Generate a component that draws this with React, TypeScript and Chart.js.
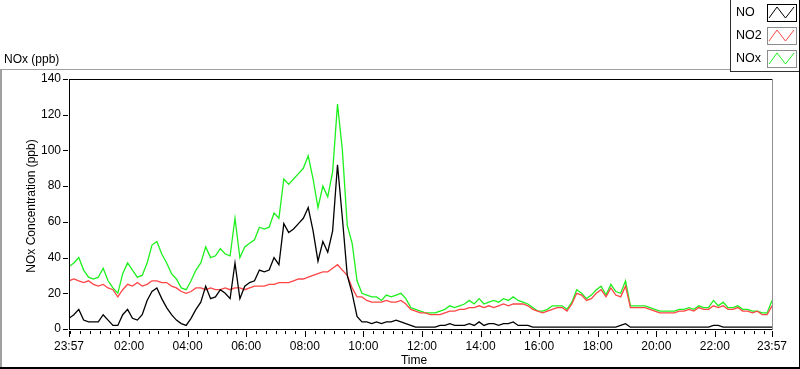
import React, { useEffect, useRef } from "react";
import { Chart, registerables } from "chart.js";

Chart.register(...registerables);

// Sample spacing in minutes, starting at 23:57
const SAMPLE_STEP_MIN = 10;

const NO_PPB = [
  6, 8, 11, 5, 4, 4, 4, 8, 5, 2,
  2, 8, 11, 6, 5, 8, 16, 21, 23, 17,
  12, 8, 5, 3, 2, 6, 11, 15, 24, 17,
  18, 22, 20, 17, 37, 17, 24, 26, 27, 33,
  32, 33, 40, 36, 59, 54, 56, 59, 62, 68,
  55, 38, 49, 43, 55, 92, 62, 30, 20, 7,
  4, 4, 3, 4, 3, 4, 4, 5, 4, 3,
  2, 1, 1, 1, 1, 1, 2, 2, 3, 2,
  2, 2, 3, 2, 4, 2, 3, 3, 2, 3,
  3, 4, 2, 2, 2, 1, 1, 1, 1, 1,
  1, 1, 1, 1, 1, 1, 1, 1, 1, 1,
  1, 1, 1, 2, 3, 1, 1, 1, 1, 1,
  1, 1, 1, 1, 1, 1, 1, 1, 1, 1,
  1, 1, 2, 2, 1, 1, 1, 1, 1, 1,
  1, 1, 1, 1, 1,
];

const NO2_PPB = [
  27, 28, 27, 26, 27, 25, 24, 25, 23, 22,
  18, 22, 25, 24, 26, 24, 25, 27, 27, 26,
  26, 24, 23, 21, 20, 21, 23, 23, 22, 23,
  22, 22, 23, 22, 23, 23, 22, 23, 24, 24,
  24, 25, 25, 26, 26, 26, 27, 28, 28, 29,
  30, 31, 32, 32, 34, 36, 33, 30, 23, 18,
  18, 16, 15, 15, 15, 16, 15, 15, 16, 14,
  11, 10, 9, 9, 8, 8, 8, 9, 10, 10,
  11, 11, 12, 12, 13, 12, 13, 12, 13, 14,
  13, 14, 14, 14, 13, 11, 10, 9, 10, 11,
  12, 12, 10, 14, 20, 19, 16, 17, 20, 22,
  18, 23, 19, 18, 24, 12, 12, 12, 12, 11,
  10, 9, 9, 9, 9, 10, 10, 11, 10, 12,
  11, 11, 13, 12, 13, 11, 11, 12, 10, 10,
  9, 10, 8, 8, 13,
];

const NOX_PPB = [
  35, 37, 40, 33, 29, 28, 29, 34, 27, 23,
  20, 31, 37, 33, 29, 30, 37, 47, 49, 42,
  37, 31, 28, 23, 22, 27, 33, 37, 46, 40,
  41, 45, 42, 41, 62, 40, 46, 48, 50, 57,
  56, 57, 65, 62, 84, 81, 84, 87, 90, 97,
  84, 68, 80, 74, 88, 126, 100, 58, 48, 27,
  20, 19, 18, 18, 16, 19, 18, 19, 20, 17,
  12, 11, 10, 9, 9, 9, 10, 11, 13, 12,
  13, 14, 16, 14, 17, 14, 15, 16, 15, 17,
  16, 18, 16, 15, 14, 12, 10, 10, 11, 13,
  13, 13, 11, 15, 22, 20, 17, 19, 22, 24,
  19, 25, 21, 20, 27, 13, 13, 13, 13, 12,
  11, 10, 10, 10, 10, 11, 11, 12, 11, 13,
  12, 12, 16, 13, 15, 12, 12, 13, 11, 11,
  10, 10, 9, 9, 16,
];

// Major x ticks (minutes after 23:57) and their labels
const X_TICK_MINUTES = [0, 123, 243, 363, 483, 603, 723, 843, 963, 1083, 1203, 1323, 1440];
const X_TICK_LABELS = ["23:57", "02:00", "04:00", "06:00", "08:00", "10:00", "12:00", "14:00", "16:00", "18:00", "20:00", "22:00", "23:57"];
const Y_TICKS = [0, 20, 40, 60, 80, 100, 120, 140];

const SERIES_LABELS = ["NO", "NO2", "NOx"];
const SERIES_COLORS = ["#000000", "#ff4545", "#1ef01e"];

const FONT = '"Liberation Sans", Arial, sans-serif';

const toPoints = (arr: number[]) => arr.map((v, i) => ({ x: i * SAMPLE_STEP_MIN, y: v }));

const framePlugin = {
  id: "labviewFrame",
  beforeDraw(chart: any) {
    const ctx = chart.ctx;
    ctx.save();
    ctx.fillStyle = "#ffffff";
    ctx.fillRect(0, 0, chart.width, chart.height);
    ctx.restore();
  },
  afterDraw(chart: any) {
    const ctx = chart.ctx as CanvasRenderingContext2D;
    const xs = chart.scales.x;
    const ys = chart.scales.y;
    const a = chart.chartArea;
    ctx.save();

    // outer frame
    ctx.fillStyle = "#a0a0a0";
    ctx.fillRect(0, 69, 2, 299);
    ctx.fillRect(0, 69, 730, 1);
    ctx.fillStyle = "#000";
    ctx.fillRect(0, 367, 800, 2);
    ctx.fillRect(799, 0, 1, 369);

    // plot frame
    const L = Math.round(a.left);
    const R = Math.round(a.right);
    const T = Math.round(a.top);
    const B = Math.round(a.bottom);
    ctx.fillStyle = "#000";
    ctx.fillRect(L, T, R - L, 1);
    ctx.fillRect(L, T, 1, B - T + 1);
    ctx.fillRect(L, B, R - L, 1);
    ctx.fillStyle = "#909090";
    ctx.fillRect(R, T, 1, B - T + 1);

    // y tick marks
    ctx.fillStyle = "#000";
    for (const v of Y_TICKS) {
      const y = Math.round(ys.getPixelForValue(v));
      ctx.fillRect(L - 6, y, 5, 1);
    }
    // x major ticks
    for (const v of X_TICK_MINUTES) {
      const x = Math.round(xs.getPixelForValue(v));
      ctx.fillRect(Math.min(x, R), B + 2, 1, 6);
    }
    // x minor ticks every 20 min from 00:00
    for (let m = 3; m < 1440; m += 20) {
      if (X_TICK_MINUTES.includes(m)) continue;
      const x = Math.round(xs.getPixelForValue(m));
      ctx.fillRect(x, B + 2, 1, 3);
    }

    // titles
    ctx.fillStyle = "#000";
    ctx.font = `12px ${FONT}`;
    ctx.textBaseline = "middle";
    ctx.textAlign = "left";
    ctx.fillText("NOx (ppb)", 4, 60);
    ctx.textAlign = "center";
    ctx.fillText("Time", 414, 361);
    ctx.save();
    ctx.translate(32, (a.top + a.bottom) / 2 + 2);
    ctx.rotate(-Math.PI / 2);
    ctx.fillText("NOx Concentration (ppb)", 0, 0);
    ctx.restore();

    // legend box
    ctx.fillStyle = "#fff";
    ctx.fillRect(730, 0, 69, 71);
    ctx.fillStyle = "#303030";
    ctx.fillRect(730, 0, 1, 72);
    ctx.fillRect(730, 71, 70, 1);
    ctx.fillStyle = "#000";
    ctx.fillRect(799, 0, 1, 72);

    const tops = [4, 27, 50];
    SERIES_LABELS.forEach((lab, i) => {
      const t = tops[i];
      ctx.fillStyle = "#000";
      ctx.textAlign = "left";
      ctx.textBaseline = "middle";
      ctx.font = `12.5px ${FONT}`;
      ctx.fillText(lab, 736, t + 9);
      ctx.strokeStyle = i === 0 ? "#000" : "#8c8c8c";
      ctx.lineWidth = 1;
      ctx.strokeRect(767.5, t + 0.5, 29, 17);
      ctx.strokeStyle = SERIES_COLORS[i];
      ctx.beginPath();
      ctx.moveTo(769, t + 14);
      ctx.lineTo(777, t + 3);
      ctx.lineTo(785.5, t + 14);
      ctx.lineTo(794, t + 3);
      ctx.stroke();
    });

    ctx.restore();
  },
};

export default function App() {
  const ref = useRef<HTMLCanvasElement>(null);

  useEffect(() => {
    const canvas = ref.current;
    if (!canvas) return;
    const font = { family: FONT, size: 12 };
    const chart = new Chart(canvas, {
      type: "line",
      data: {
        datasets: [
          { label: SERIES_LABELS[0], data: toPoints(NO_PPB), borderColor: SERIES_COLORS[0] },
          { label: SERIES_LABELS[1], data: toPoints(NO2_PPB), borderColor: SERIES_COLORS[1] },
          { label: SERIES_LABELS[2], data: toPoints(NOX_PPB), borderColor: SERIES_COLORS[2] },
        ].map((d) => ({ ...d, borderWidth: 1.3, pointRadius: 0, tension: 0, fill: false })),
      },
      options: {
        responsive: false,
        animation: false,
        events: [],
        layout: { padding: { left: 0, right: 28, top: 79, bottom: 0 } },
        plugins: {
          legend: { display: false },
          tooltip: { enabled: false },
          title: { display: false },
        },
        scales: {
          x: {
            type: "linear",
            min: 0,
            max: 1440,
            afterBuildTicks: (s: any) => {
              s.ticks = X_TICK_MINUTES.map((v) => ({ value: v }));
            },
            afterFit: (s: any) => {
              s.height = 40;
            },
            grid: { display: false },
            border: { display: false },
            ticks: {
              autoSkip: false,
              maxRotation: 0,
              padding: 2,
              font,
              color: "#000",
              callback: (_v: any, i: number) => X_TICK_LABELS[i],
            },
          },
          y: {
            type: "linear",
            min: 0,
            max: 140,
            afterBuildTicks: (s: any) => {
              s.ticks = Y_TICKS.map((v) => ({ value: v }));
            },
            afterFit: (s: any) => {
              s.width = 69;
            },
            grid: { display: false },
            border: { display: false },
            ticks: { padding: 0, font, color: "#000" },
          },
        },
      },
      plugins: [framePlugin],
    } as any);
    return () => chart.destroy();
  }, []);

  return (
    <div style={{ position: "fixed", left: 0, top: 0, width: 800, height: 369, background: "#fff" }}>
      <canvas ref={ref} width={800} height={369} style={{ display: "block", width: 800, height: 369 }} />
    </div>
  );
}
